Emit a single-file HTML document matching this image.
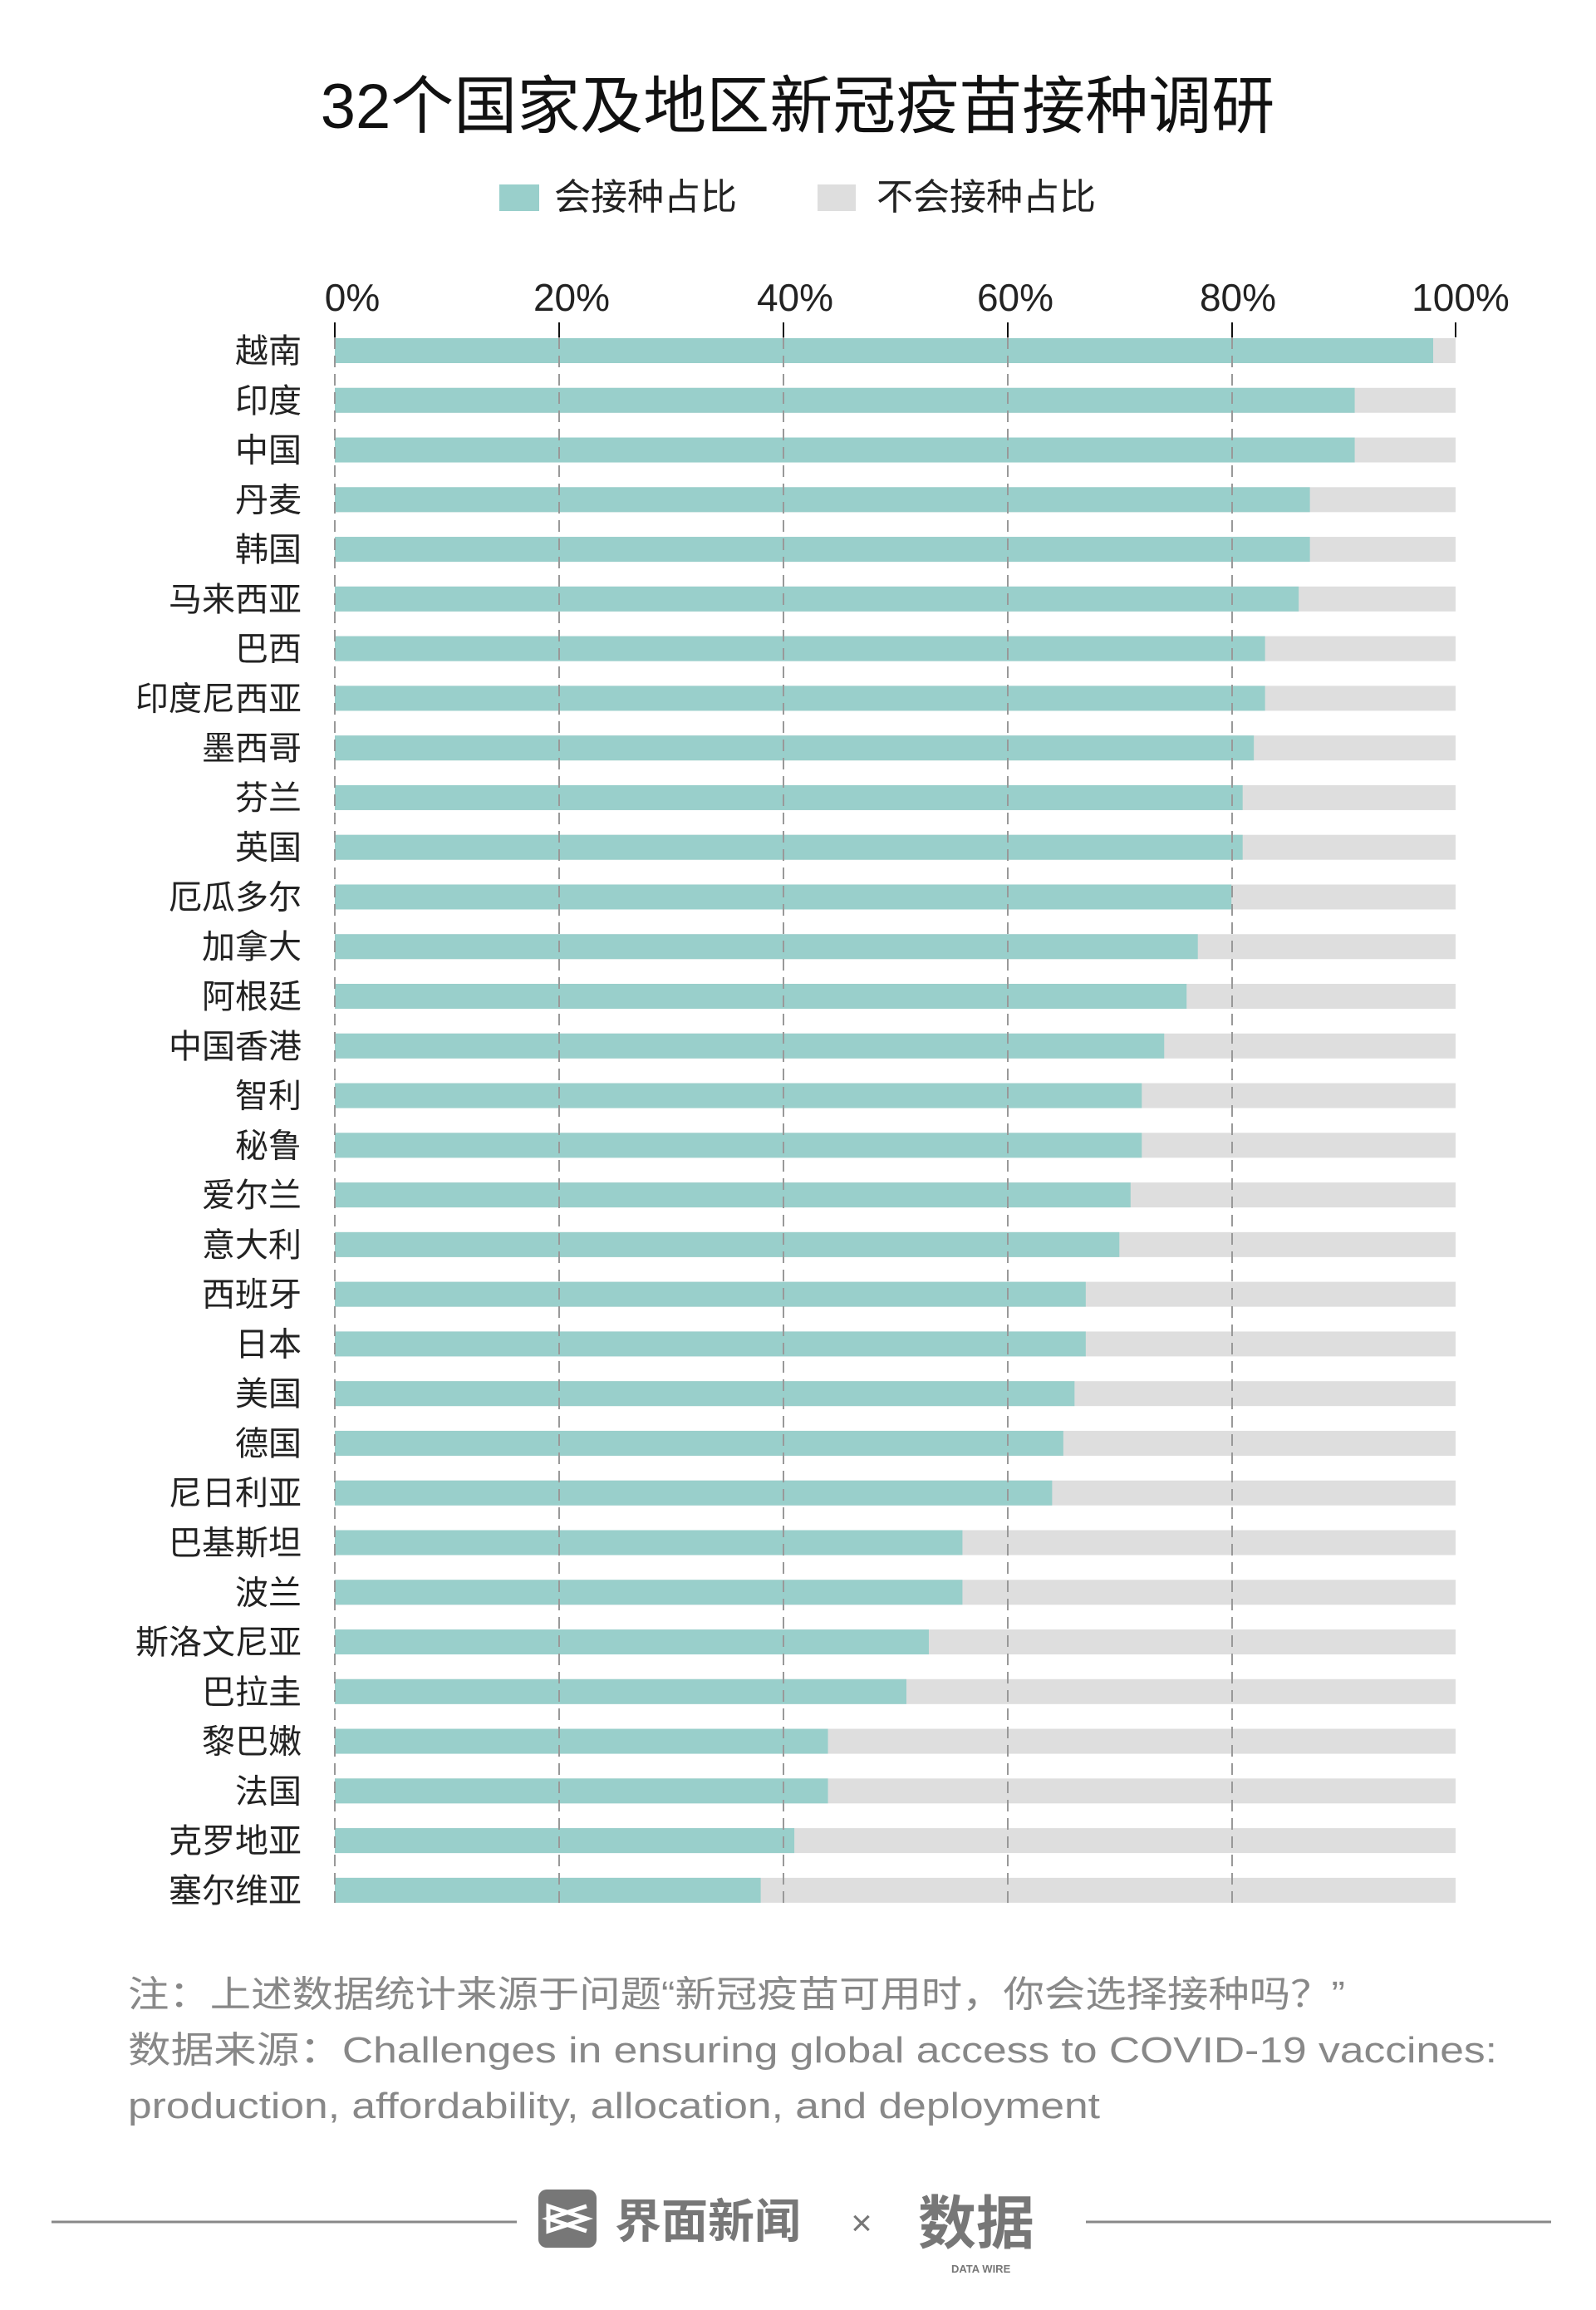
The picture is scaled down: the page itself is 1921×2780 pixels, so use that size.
<!DOCTYPE html>
<html><head><meta charset="utf-8"><style>
html,body{margin:0;padding:0;background:#fff;}
svg{display:block;}
text{font-family:"Liberation Sans","Noto Sans CJK SC",sans-serif;}
</style></head><body>
<svg width="1921" height="2780" viewBox="0 0 1921 2780" xmlns="http://www.w3.org/2000/svg">
<text x="960" y="154" font-size="76" text-anchor="middle" fill="#111">32个国家及地区新冠疫苗接种调研</text>
<rect x="601" y="222" width="48" height="32" fill="#99cfcb"/>
<text x="667" y="252" font-size="44" fill="#222">会接种占比</text>
<rect x="984" y="222" width="46" height="32" fill="#dedede"/>
<text x="1055" y="252" font-size="44" fill="#222">不会接种占比</text>
<g font-size="46" fill="#222" text-anchor="middle">
<text x="424" y="374">0%</text><text x="688" y="374">20%</text><text x="957" y="374">40%</text><text x="1222" y="374">60%</text><text x="1490" y="374">80%</text><text x="1758" y="374">100%</text>
</g>
<g stroke="#111" stroke-width="2">
<line x1="403" y1="388" x2="403" y2="406"/><line x1="673" y1="388" x2="673" y2="406"/><line x1="943" y1="388" x2="943" y2="406"/><line x1="1213" y1="388" x2="1213" y2="406"/><line x1="1483" y1="388" x2="1483" y2="406"/><line x1="1752" y1="388" x2="1752" y2="406"/>
</g>
<g id="bars"></g>
<g stroke="#999" stroke-width="2" stroke-dasharray="14,8">
<line x1="403" y1="406" x2="403" y2="2292"/><line x1="673" y1="406" x2="673" y2="2292"/><line x1="943" y1="406" x2="943" y2="2292"/><line x1="1213" y1="406" x2="1213" y2="2292"/><line x1="1483" y1="406" x2="1483" y2="2292"/>
</g>
<g font-size="44" fill="#888">
<text x="154" y="2415" textLength="1465" lengthAdjust="spacingAndGlyphs">注：上述数据统计来源于问题“新冠疫苗可用时，你会选择接种吗？”</text>
<text x="154" y="2482" textLength="1648" lengthAdjust="spacingAndGlyphs">数据来源：Challenges in ensuring global access to COVID-19 vaccines:</text>
<text x="154" y="2549" textLength="1170" lengthAdjust="spacingAndGlyphs">production, affordability, allocation, and deployment</text>
</g>
<line x1="62" y1="2674" x2="622" y2="2674" stroke="#888" stroke-width="3"/>
<line x1="1307" y1="2674" x2="1867" y2="2674" stroke="#888" stroke-width="3"/>
<rect x="648" y="2635" width="70" height="70" rx="10" fill="#777"/>
<path d="M660 2655 L706 2670 L660 2685 Z M706 2655 L660 2670 L706 2685" fill="none" stroke="#fff" stroke-width="5"/>
<text x="740" y="2693" font-size="56" font-weight="bold" fill="#777">界面新闻</text>
<text x="1037" y="2690" font-size="44" fill="#777" text-anchor="middle">×</text>
<text x="1105" y="2700" font-size="70" font-weight="bold" fill="#777">数据</text>
<text x="1145" y="2735" font-size="13" fill="#777" font-weight="bold">DATA WIRE</text>
<g id="labels" font-size="40" fill="#222" text-anchor="end"></g>
</svg>
<script>
var d=[["越南",98],["印度",91],["中国",91],["丹麦",87],["韩国",87],["马来西亚",86],["巴西",83],["印度尼西亚",83],["墨西哥",82],["芬兰",81],["英国",81],["厄瓜多尔",80],["加拿大",77],["阿根廷",76],["中国香港",74],["智利",72],["秘鲁",72],["爱尔兰",71],["意大利",70],["西班牙",67],["日本",67],["美国",66],["德国",65],["尼日利亚",64],["巴基斯坦",56],["波兰",56],["斯洛文尼亚",53],["巴拉圭",51],["黎巴嫩",44],["法国",44],["克罗地亚",41],["塞尔维亚",38]];
var ns="http://www.w3.org/2000/svg",b=document.getElementById("bars"),l=document.getElementById("labels");
d.forEach(function(r,i){var y=407+i*59.77;
var g=document.createElementNS(ns,"rect");g.setAttribute("x",403);g.setAttribute("y",y);g.setAttribute("width",1349);g.setAttribute("height",30);g.setAttribute("fill","#dedede");b.appendChild(g);
var t=document.createElementNS(ns,"rect");t.setAttribute("x",403);t.setAttribute("y",y);t.setAttribute("width",13.49*r[1]);t.setAttribute("height",30);t.setAttribute("fill","#99cfcb");b.appendChild(t);
var x=document.createElementNS(ns,"text");x.setAttribute("x",363);x.setAttribute("y",y+29);x.textContent=r[0];l.appendChild(x);});
</script>
</body></html>
